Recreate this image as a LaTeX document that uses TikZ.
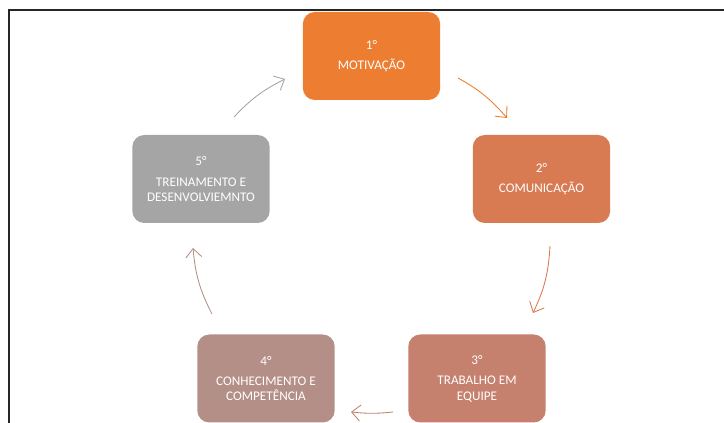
\documentclass[tikz,border=0pt]{standalone}
\usepackage{fontspec}
\setmainfont{Carlito}
\usepackage{tikz}
\usepackage{xcolor}
\usetikzlibrary{arrows.meta,shapes}
\definecolor{passo1}{HTML}{ED7D31}
\definecolor{passo2}{HTML}{D97B52}
\definecolor{passo3}{HTML}{C5806E}
\definecolor{passo4}{HTML}{B48F88}
\definecolor{passo5}{HTML}{A5A5A5}
\tikzstyle{passo}		= [rectangle, rounded corners=9pt, minimum width=103pt, minimum height=66pt, inner sep=0pt, text=white, align=center, font=\fontsize{9.9}{11.3}\selectfont]
\tikzstyle{seta}		= [draw, line width=0.65pt, -{Straight Barb[length=6.5pt,width=12pt]}]
\tikzstyle{moldura}	= [draw=black!85, line width=1.5pt]

\begin{document}
\begin{tikzpicture}[x=0.75pt, y=-0.75pt]
		\useasboundingbox (0,0) rectangle (724,423);
		
		%%%%% frame
		\draw[moldura] (724,10) -- (9,10) -- (9,423);
		
		%%%%% Steps  (sentido horario)
		\foreach \pos/\name/\cor/\txt in {{(371.5,56)/p1/passo1/{1°\\[4.2pt]MOTIVAÇÃO}}, {(541.5,179)/p2/passo2/{2°\\[4.2pt]COMUNICAÇÃO}}, {(477,378.5)/p3/passo3/{3°\\[4.2pt]TRABALHO EM\\EQUIPE}}, {(266,378.5)/p4/passo4/{4°\\[4.2pt]CONHECIMENTO E\\COMPETÊNCIA}}, {(201,179)/p5/passo5/{5°\\[4.2pt]TREINAMENTO E\\DESENVOLVIEMNTO}}}
		\node[passo, fill=\cor] (\name) at \pos {\txt};
		
		%%%% arrow ends
		\foreach \x/\y/\name in {458/78/s12, 507/118/e12, 550/246/s23, 533/313/e23, 393/412/s34, 351/412/e34, 212/314/s45, 193/248/e45, 234/117/s51, 285/79/e51}
		\coordinate (\name) at (\x,\y);
		
		%%%% Cycle
		\foreach \source/\dest/\cor/\curva in {s12/e12/passo1/10, s23/e23/passo2/11, s34/e34/passo3/6, s45/e45/passo4/11, s51/e51/passo5/10}
		\path[seta, draw=\cor] (\source) to[bend left=\curva] (\dest);
\end{tikzpicture}
\end{document}
